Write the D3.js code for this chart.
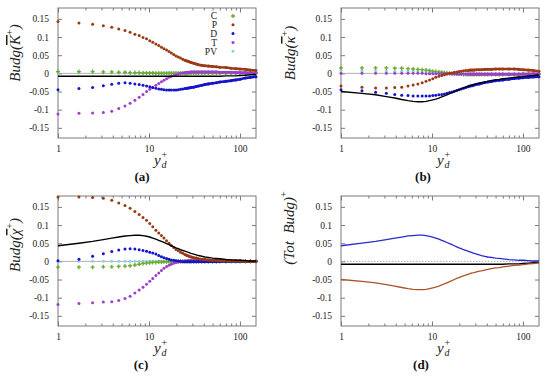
<!DOCTYPE html>
<html><head><meta charset="utf-8">
<script src="https://cdn.jsdelivr.net/npm/d3@7"></script>
<style>
body{margin:0;background:#fff;}
svg text{font-family:"Liberation Serif","Times New Roman",Times,"DejaVu Serif",serif !important;}
</style></head>
<body><svg id="chart" width="550" height="379"></svg>
<script>
// ---------- data ----------
const yPlus = [1,1.7,2.4,3.15,3.9,4.65,5.45,6.2,7,7.8,8.6,9.4,10.2,11,11.9,12.8,13.7,14.6,15.6,16.6,17.6,18.7,19.8,21,22.2,23.5,24.8,26.2,27.6,29,31,33,35,38,41,45,50,55,60,70,80,90,100,115,130,150];

// (a) budget of K+
const K_C  = [0.005,0.005,0.005,0.004,0.004,0.003,0.003,0.002,0.002,0.002,0.001,0.001,0.001,0.001,0,0,0,0,0,0,0,0,0,0,0,0,0,0,0.001,0.001,0.001,0.001,0.001,0.001,0.001,0.001,0.001,0.001,0.001,0.001,0.001,0.001,0.001,0.001,0.001,0.001];
const K_P  = [0.143,0.139,0.135,0.131,0.127,0.122,0.118,0.113,0.108,0.104,0.099,0.095,0.090,0.086,0.081,0.077,0.072,0.068,0.064,0.060,0.056,0.052,0.048,0.045,0.042,0.039,0.036,0.034,0.032,0.030,0.028,0.026,0.024,0.022,0.021,0.020,0.019,0.018,0.017,0.016,0.014,0.013,0.012,0.011,0.009,0.008];
const K_D  = [-0.045,-0.042,-0.039,-0.034,-0.030,-0.027,-0.026,-0.027,-0.029,-0.031,-0.033,-0.035,-0.037,-0.039,-0.041,-0.043,-0.044,-0.045,-0.046,-0.046,-0.046,-0.046,-0.046,-0.045,-0.044,-0.043,-0.042,-0.041,-0.040,-0.039,-0.038,-0.036,-0.035,-0.033,-0.031,-0.029,-0.027,-0.026,-0.024,-0.022,-0.020,-0.018,-0.016,-0.013,-0.011,-0.009];
const K_T  = [-0.112,-0.110,-0.109,-0.108,-0.104,-0.097,-0.090,-0.082,-0.074,-0.066,-0.058,-0.050,-0.044,-0.039,-0.033,-0.028,-0.023,-0.019,-0.015,-0.011,-0.008,-0.006,-0.004,-0.002,0.000,0.001,0.002,0.003,0.003,0.004,0.004,0.004,0.004,0.004,0.004,0.004,0.004,0.004,0.003,0.003,0.003,0.002,0.002,0.002,0.001,0.001];
const K_PV = [0.001,0.001,0.001,0.001,0.001,0.001,0.001,0.001,0.001,0.001,0.001,0.001,0.001,0.001,0.001,0.001,0.001,0.001,0.001,0.002,0.002,0.002,0.002,0.002,0.002,0.002,0.003,0.003,0.003,0.003,0.003,0.003,0.003,0.003,0.003,0.003,0.003,0.003,0.002,0.002,0.002,0.002,0.002,0.001,0.001,0.001];
const K_Tot= [-0.008,-0.008,-0.008,-0.008,-0.008,-0.008,-0.008,-0.008,-0.008,-0.008,-0.008,-0.008,-0.008,-0.008,-0.008,-0.008,-0.008,-0.008,-0.008,-0.008,-0.008,-0.008,-0.008,-0.008,-0.008,-0.008,-0.008,-0.008,-0.008,-0.008,-0.008,-0.008,-0.008,-0.008,-0.008,-0.008,-0.008,-0.008,-0.008,-0.007,-0.007,-0.007,-0.006,-0.005,-0.004,-0.003];

// (b) budget of kappa+
const k_C  = [0.015,0.015,0.015,0.015,0.014,0.014,0.013,0.012,0.011,0.010,0.009,0.008,0.006,0.005,0.004,0.003,0.002,0.001,0.000,-0.001,-0.001,-0.002,-0.002,-0.002,-0.003,-0.003,-0.003,-0.003,-0.003,-0.003,-0.003,-0.003,-0.003,-0.003,-0.003,-0.003,-0.003,-0.003,-0.003,-0.003,-0.003,-0.003,-0.002,-0.002,-0.002,-0.002];
const k_P  = [-0.035,-0.038,-0.040,-0.040,-0.039,-0.038,-0.035,-0.032,-0.029,-0.026,-0.022,-0.018,-0.015,-0.011,-0.008,-0.006,-0.004,-0.002,0.000,0.001,0.003,0.004,0.005,0.006,0.007,0.008,0.008,0.009,0.009,0.009,0.010,0.010,0.010,0.011,0.011,0.011,0.012,0.012,0.012,0.012,0.012,0.011,0.010,0.009,0.008,0.006];
const k_D  = [-0.045,-0.048,-0.052,-0.055,-0.058,-0.060,-0.061,-0.062,-0.062,-0.062,-0.062,-0.062,-0.061,-0.060,-0.059,-0.058,-0.057,-0.055,-0.053,-0.051,-0.049,-0.047,-0.045,-0.043,-0.041,-0.039,-0.037,-0.035,-0.034,-0.032,-0.030,-0.029,-0.027,-0.025,-0.024,-0.022,-0.020,-0.019,-0.018,-0.016,-0.014,-0.013,-0.012,-0.011,-0.010,-0.009];
const k_T  = [0.000,0.000,0.000,0.000,0.000,0.000,0.000,0.000,0.000,0.000,-0.001,-0.001,-0.001,-0.001,-0.001,-0.001,-0.001,-0.001,-0.001,-0.001,-0.002,-0.002,-0.002,-0.002,-0.002,-0.002,-0.002,-0.002,-0.002,-0.002,-0.002,-0.002,-0.002,-0.002,-0.002,-0.002,-0.002,-0.002,-0.002,-0.002,-0.002,-0.002,-0.002,-0.002,-0.001,-0.001];
const k_PV = [0.007,0.007,0.007,0.007,0.006,0.006,0.006,0.005,0.005,0.004,0.004,0.003,0.003,0.002,0.002,0.001,0.001,0.000,0.000,-0.001,-0.001,-0.001,-0.002,-0.002,-0.002,-0.003,-0.003,-0.003,-0.003,-0.003,-0.003,-0.003,-0.003,-0.003,-0.003,-0.003,-0.003,-0.003,-0.003,-0.003,-0.003,-0.003,-0.003,-0.003,-0.003,-0.003];
const k_Tot= [-0.050,-0.055,-0.059,-0.064,-0.068,-0.072,-0.075,-0.077,-0.078,-0.078,-0.077,-0.075,-0.073,-0.071,-0.068,-0.065,-0.062,-0.059,-0.056,-0.053,-0.050,-0.047,-0.045,-0.042,-0.040,-0.038,-0.036,-0.034,-0.032,-0.031,-0.029,-0.027,-0.026,-0.024,-0.022,-0.020,-0.018,-0.017,-0.015,-0.013,-0.011,-0.010,-0.009,-0.007,-0.006,-0.004];

// (c) budget of chi+
const X_C  = [-0.016,-0.016,-0.016,-0.015,-0.015,-0.014,-0.013,-0.012,-0.010,-0.008,-0.006,-0.005,-0.004,-0.003,-0.003,-0.002,-0.002,-0.001,-0.001,-0.001,-0.001,0,0,0,0,0,0,0,0,0,0,0,0,0,0,0,0,0,0,0,0,0,0,0,0,0];
const X_P  = [0.177,0.177,0.176,0.174,0.168,0.161,0.154,0.146,0.137,0.129,0.121,0.113,0.104,0.095,0.086,0.078,0.071,0.064,0.057,0.050,0.044,0.038,0.033,0.029,0.025,0.022,0.019,0.016,0.014,0.012,0.010,0.009,0.007,0.006,0.005,0.004,0.003,0.003,0.002,0.002,0.001,0.001,0.001,0,0,0];
const X_D  = [0.002,0.006,0.014,0.021,0.027,0.031,0.034,0.035,0.034,0.032,0.030,0.028,0.025,0.023,0.020,0.016,0.013,0.010,0.008,0.006,0.004,0.003,0.002,0.001,0.000,-0.001,-0.001,-0.001,-0.001,-0.001,-0.001,-0.001,-0.001,-0.001,-0.001,-0.001,-0.001,-0.001,0,0,0,0,0,0,0,0];
const X_T  = [-0.119,-0.116,-0.114,-0.112,-0.111,-0.108,-0.102,-0.096,-0.087,-0.079,-0.071,-0.063,-0.055,-0.047,-0.039,-0.032,-0.025,-0.019,-0.014,-0.011,-0.008,-0.005,-0.003,-0.002,-0.001,0.000,0.001,0.001,0.002,0.002,0.002,0.002,0.002,0.002,0.002,0.002,0.002,0.001,0.001,0.001,0.001,0.001,0.001,0,0,0];
const X_PV = [0,0,0,0,0,0,0,0,0,0,0,0,0,0,0,0,0,0,0,0,0,0,0,0,0,0,0,-0.001,-0.001,-0.001,-0.001,-0.001,-0.001,-0.001,-0.001,-0.001,-0.001,-0.001,-0.001,-0.001,0,0,0,0,0,0];
const X_Tot= [0.043,0.050,0.055,0.060,0.064,0.067,0.070,0.071,0.072,0.072,0.071,0.069,0.067,0.064,0.061,0.058,0.055,0.052,0.049,0.046,0.043,0.040,0.037,0.035,0.032,0.030,0.028,0.026,0.024,0.022,0.020,0.018,0.016,0.014,0.012,0.011,0.009,0.008,0.007,0.005,0.004,0.003,0.003,0.002,0.001,0.001];

const termNames = ["C","P","D","T","PV"];
const yTickValues = [-0.15,-0.1,-0.05,0,0.05,0.1,0.15];
const xTickLabels = [1,10,100];
const captions = ["(a)","(b)","(c)","(d)"];

// ---------- styles ----------
const termColor = {C:"#6bab2c",P:"#9a3a14",D:"#1414c8",T:"#9a3fd0",PV:"#8ed2e2"};
const W = 198, H = 130;
const panels = [
  {x:58, y:8,   lx:20,  ly:53,  cap:142},
  {x:341,y:8,   lx:295, ly:53,  cap:423},
  {x:58, y:196, lx:20,  ly:245, cap:141},
  {x:341,y:196, lx:294, ly:228, cap:421}
];

const svg = d3.select("#chart");
const xs = d3.scaleLog().domain([1,150]).range([0,W]);
const ys = d3.scaleLinear().domain([-0.178,0.18]).range([H,0]);

function frame(g, dottedZero){
  g.append("rect").attr("width",W).attr("height",H).attr("fill","none").attr("stroke","#7a7a7a").attr("stroke-width",1);
  const yl = d3.axisLeft(ys).tickValues(yTickValues).tickSizeInner(-4).tickSizeOuter(0).tickPadding(9)
     .tickFormat(d=> d===0?"0":String(+d.toFixed(2)));
  const ga = g.append("g").call(yl);
  ga.select(".domain").remove();
  ga.selectAll("line").attr("stroke","#7a7a7a");
  ga.selectAll("text").attr("font-size",9.5).attr("fill","#222");
  const yr = g.append("g").attr("transform",`translate(${W},0)`).call(d3.axisRight(ys).tickValues(yTickValues).tickSize(-4).tickFormat(""));
  yr.select(".domain").remove(); yr.selectAll("line").attr("stroke","#7a7a7a");
  const allX = d3.range(1,10).concat(d3.range(10,100,10)).concat([100]);
  const xb = g.append("g").attr("transform",`translate(0,${H})`)
    .call(d3.axisBottom(xs).tickValues(allX).tickSizeInner(-2.5).tickSizeOuter(0).tickPadding(7)
    .tickFormat(d=> xTickLabels.includes(d)? String(d):""));
  xb.select(".domain").remove();
  xb.selectAll("line").attr("stroke","#7a7a7a").filter(d=>xTickLabels.includes(d)).attr("y2",-4.5);
  xb.selectAll("text").attr("font-size",9.5).attr("fill","#222");
  const xt = g.append("g").call(d3.axisTop(xs).tickValues(allX).tickSize(-2.5).tickFormat(""));
  xt.select(".domain").remove();
  xt.selectAll("line").attr("stroke","#7a7a7a").filter(d=>xTickLabels.includes(d)).attr("y2",4.5);
  g.append("line").attr("x1",0).attr("x2",W).attr("y1",ys(0)).attr("y2",ys(0))
    .attr("stroke","#9a9a9a").attr("stroke-width",0.8).attr("stroke-dasharray",dottedZero?"1.5,1.5":null);
}

const lineGen = d3.line().x(d=>xs(d[0])).y(d=>ys(d[1]));

function dotSeries(g, name, vals){
  const pts = yPlus.map((x,i)=>[x,vals[i]]);
  const col = termColor[name];
  g.append("path").datum(pts.filter(p=>p[0]>=24)).attr("d",lineGen)
    .attr("fill","none").attr("stroke",col).attr("stroke-width",2.6);
  if(name==="C"){
    g.append("g").selectAll("path").data(pts).join("path")
      .attr("transform",p=>`translate(${xs(p[0])},${ys(p[1])})`)
      .attr("d",d3.symbol(d3.symbolCross,9)).attr("fill",col);
  } else {
    g.append("g").selectAll("circle").data(pts).join("circle")
      .attr("cx",p=>xs(p[0])).attr("cy",p=>ys(p[1])).attr("r",1.5).attr("fill",col);
  }
}

function solid(g, vals, col, w){
  g.append("path").datum(yPlus.map((x,i)=>[x,vals[i]])).attr("d",lineGen)
    .attr("fill","none").attr("stroke",col).attr("stroke-width",w);
}

function yLabelText(p){
  return svg.append("text").attr("transform",`translate(${p.lx},${p.ly}) rotate(-90)`)
    .attr("text-anchor","middle").attr("font-size",15).attr("font-style","italic").attr("fill","#222");
}
function budgLabel(t, sym){
  t.append("tspan").text("Budg(");
  t.append("tspan").text(sym).style("text-decoration","overline");
  t.append("tspan").text("+").attr("font-size",10).attr("dy",-7).attr("font-style","normal");
  t.append("tspan").text(")").attr("dy",7);
}
function xLabel(p){
  const cx = p.x + W/2 - 3, by = p.y + H + 27;
  svg.append("text").attr("x",cx).attr("y",by).attr("font-size",15).attr("font-style","italic").attr("fill","#222").text("y");
  svg.append("text").attr("x",cx+7.5).attr("y",by+3).attr("font-size",10).attr("font-style","italic").attr("fill","#222").text("d");
  svg.append("text").attr("x",cx+7.5).attr("y",by-7).attr("font-size",10).attr("fill","#222").text("+");
}
function caption(p, s){
  svg.append("text").attr("x",p.cap).attr("y",p.y+H+43).attr("text-anchor","middle")
    .attr("font-size",13).attr("font-weight","bold").attr("fill","#111").text(s);
}

const budgets = [
  {C:K_C,P:K_P,D:K_D,T:K_T,PV:K_PV,tot:K_Tot,sym:"K"},
  {C:k_C,P:k_P,D:k_D,T:k_T,PV:k_PV,tot:k_Tot,sym:"κ"},
  {C:X_C,P:X_P,D:X_D,T:X_T,PV:X_PV,tot:X_Tot,sym:"χ"}
];

budgets.forEach((b,i)=>{
  const p = panels[i];
  const g = svg.append("g").attr("transform",`translate(${p.x},${p.y})`);
  frame(g,false);
  ["PV","C","T","D","P"].forEach(n=>dotSeries(g,n,b[n]));
  solid(g, b.tot, "#000", 1.4);
  budgLabel(yLabelText(p), b.sym);
  xLabel(p);
  caption(p, captions[i]);
});

// legend in (a)
{
  const lg = svg.append("g").attr("transform","translate(217,16)");
  termNames.forEach((n,i)=>{
    lg.append("text").attr("x",0).attr("y",i*8.8+3.3).attr("text-anchor","end").attr("font-size",9.5).attr("fill","#222").text(n);
    if(n==="C"){
      lg.append("path").attr("transform",`translate(16,${i*8.8})`).attr("d",d3.symbol(d3.symbolCross,9)).attr("fill",termColor[n]);
    } else {
      lg.append("circle").attr("cx",16).attr("cy",i*8.8).attr("r",1.5).attr("fill",termColor[n]);
    }
  });
}

// (d) totals
{
  const p = panels[3];
  const g = svg.append("g").attr("transform",`translate(${p.x},${p.y})`);
  frame(g,true);
  solid(g, K_Tot, "#000", 1.4);
  solid(g, X_Tot, "#2a2ad0", 1.3);
  solid(g, k_Tot, "#b0502a", 1.3);
  const t = yLabelText(p);
  t.append("tspan").text("(Tot\u00a0\u00a0Budg)");
  t.append("tspan").text("+").attr("font-size",10).attr("dy",-7).attr("font-style","normal");
  xLabel(p);
  caption(p, captions[3]);
}
</script></body></html>
